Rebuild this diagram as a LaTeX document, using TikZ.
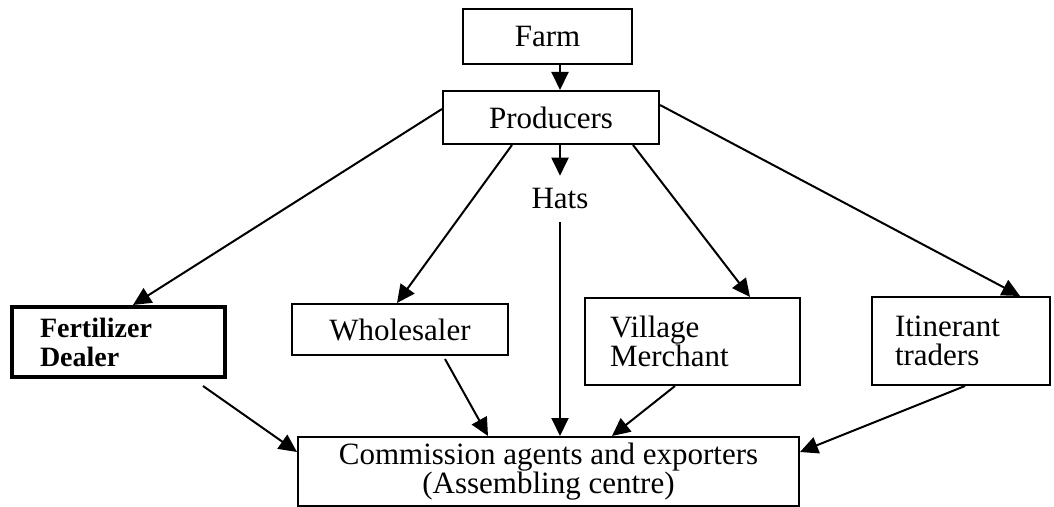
\documentclass[tikz,border=0pt]{standalone}
\usepackage{fontspec}
\setmainfont{Liberation Serif}
\usetikzlibrary{arrows.meta,calc}

\newcommand{\chartfont}{\fontsize{15.5}{14.5}\selectfont}

\begin{document}
\begin{tikzpicture}[x=0.5pt, y=-0.5pt, line width=1pt,
		box/.style={draw, rectangle, inner sep=0pt, font=\chartfont},
		sidebox/.style={box, align=left, inner ysep=0pt},
		arr/.style={-{Triangle[length=9pt,width=8.5pt]}}]
	
	\useasboundingbox (0,0) rectangle (1054,507);
	
	% top of the chain
	\node[box, minimum width=84.5pt, minimum height=27.5pt] (farm) at (547.5,36.5) {Farm};
	\node[box, minimum width=108pt, minimum height=26.5pt] (prod) at (551,117.5) {Producers};
	\node[font=\chartfont, inner sep=6pt] (hats) at (560,199) {Hats};
	
	% middle row
	\node[sidebox, line width=2pt, font=\fontsize{14}{14.5}\selectfont\bfseries, text width=78.5pt, inner xsep=14pt, minimum height=35pt] (fert) at (118.5,342) {Fertilizer\\Dealer};
	\node[box, minimum width=108pt, minimum height=25.5pt] (whole) at (400,329.5) {Wholesaler};
	\node[sidebox, text width=82.5pt, inner xsep=12.5pt, minimum height=43.5pt] (vill) at (692.5,341.5) {Village\\Merchant};
	\node[sidebox, text width=66pt, inner xsep=11.5pt, minimum height=44pt] (itin) at (961,341) {Itinerant\\traders};
	
	% bottom
	\node[box, align=center, minimum width=250.5pt, minimum height=34.5pt] (comm) at (548.5,471.5) {Commission agents and exporters\\(Assembling centre)};
	
	\draw[arr] (farm.south -| hats) -- (prod.north -| hats);
	\draw[arr] (prod.south -| hats) -- (hats.north);
	\draw[arr] (hats.south) -- (comm.north -| hats);
	
	\draw[arr] ([yshift=4.25pt]prod.west) -- ([xshift=7.25pt]fert.north);
	\draw[arr] ([xshift=-19.5pt]prod.south) -- ([xshift=-1.5pt]whole.north);
	\draw[arr] ([xshift=41pt]prod.south) -- ([xshift=28.75pt]vill.north);
	\draw[arr] ([yshift=6.25pt]prod.east) -- ([xshift=29.5pt]itin.north);
	
	\draw[arr] ([xshift=42.25pt,yshift=-3.5pt]fert.south) -- ([yshift=9.75pt]comm.west);
	\draw[arr] ([xshift=22.5pt,yshift=-1.5pt]whole.south) -- ([xshift=-30.25pt]comm.north);
	\draw[arr] ([xshift=-8.75pt]vill.south) -- ([xshift=31.75pt]comm.north);
	\draw[arr] ([xshift=2pt]itin.south) -- ([yshift=9.75pt]comm.east);
	
\end{tikzpicture}
\end{document}
